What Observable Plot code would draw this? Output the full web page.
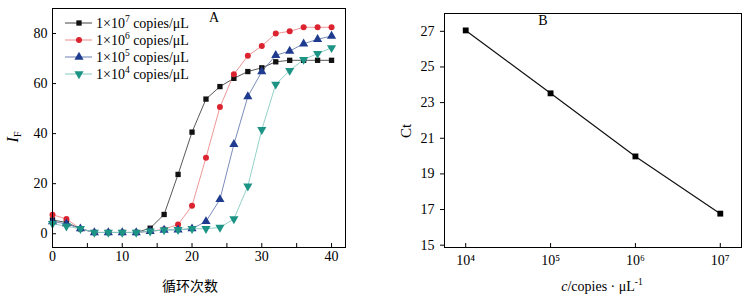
<!DOCTYPE html>
<html><head><meta charset="utf-8">
<script src="https://cdn.jsdelivr.net/npm/d3@7"></script>
<script src="https://cdn.jsdelivr.net/npm/@observablehq/plot@0.6"></script>
<style>
body{margin:0;background:#fff;}
#wrap{display:flex;width:750px;height:298px;overflow:hidden;}
#wrap svg{font-family:"Liberation Serif","Times New Roman",serif;display:block;}
</style></head><body><div id="wrap"></div>
<script>
// ---------- Panel A data ----------
const cycles = [0,2,4,6,8,10,12,14,16,18,20,22,24,26,28,30,32,34,36,38,40];
const seriesNames = ["1e7","1e6","1e5","1e4"];
const seriesExp = ["7","6","5","4"];
const vals1e7 = [5.5,4.5,2,0.5,0.5,0.5,0.5,2.2,7.7,23.7,40.6,53.8,58.8,62.1,64.8,66.3,68.7,69.3,69.3,69.3,69.3];
const vals1e6 = [7.6,5.9,2,0.5,0.5,0.5,0.5,1,1.8,3.7,11.2,30.4,50.6,63.7,71.1,75,80,80.9,82.5,82.5,82.5];
const vals1e5 = [4.8,4,2,0.5,0.5,0.5,0.5,1,1.5,1.6,2,4.9,13.7,35.7,54.8,64.8,71.3,73,75.9,77.7,79];
const vals1e4 = [4,3,2,0.5,0.5,0.5,0.5,1,1.5,1.6,2,2,2.5,5.9,19,41.6,59.7,65.2,69.6,72,74.3];
const xTicksA = [0,10,20,30,40];
const xMinorA = [0,5,10,15,20,25,30,35,40];
const yTicksA = [0,20,40,60,80];

// ---------- Panel B data ----------
const conc = [1e4,1e5,1e6,1e7];
const ct = [27.05,23.52,19.98,16.77];
const xTicksB = [1e4,1e5,1e6,1e7];
const yTicksB = [15,17,19,21,23,25,27];

const markerColors = ["#111111","#dc2430","#1f3b8f","#1c9485"];
const lineColors   = ["#444444","#ec8a8a","#6d7fb3","#86cbc2"];
const symbols = ["square","circle","triangle","triangle"];
const rotations = [0,0,0,180];
const radii = [3.0,3.0,3.4,3.4];

const allVals = [vals1e7, vals1e6, vals1e5, vals1e4];
const rowsA = [];
seriesNames.forEach((s,i)=>cycles.forEach((c,j)=>rowsA.push({series:s, idx:i, cycle:c, value:allVals[i][j]})));
const rowsB = conc.map((c,i)=>({conc:c, ct:ct[i]}));

const font = "Liberation Serif, Times New Roman, serif";
const W = 375, H = 298;

// ---------- Panel A ----------
const mA = {l:52, r:30, t:8, b:51};
const markSeries = [];
seriesNames.forEach((s,i)=>{
  const d = rowsA.filter(r=>r.idx===i);
  markSeries.push(Plot.line(d,{x:"cycle",y:"value",stroke:lineColors[i],strokeWidth:0.9}));
});
seriesNames.forEach((s,i)=>{
  const d = rowsA.filter(r=>r.idx===i);
  markSeries.push(Plot.dot(d,{x:"cycle",y:"value",symbol:symbols[i],rotate:rotations[i],r:radii[i],fill:markerColors[i],stroke:"none"}));
});
const plotA = Plot.plot({
  width: W, height: H,
  marginLeft: mA.l, marginRight: mA.r, marginTop: mA.t, marginBottom: mA.b,
  style: {fontFamily: font, fontSize: "14px", color: "#000", background: "#fff", overflow: "visible"},
  x: {domain: [0, 42]},
  y: {domain: [-5.5, 90]},
  marks: [
    Plot.axisX({ticks: xTicksA, tickSize: 0, tickPadding: 4, label: null, fontSize: 14}),
    Plot.axisY({ticks: yTicksA, tickSize: 0, tickPadding: 5, label: null, fontSize: 14}),
    Plot.tickX(xMinorA, {x: d=>d, insetTop: H - mA.t - mA.b - 4, stroke: "#000"}),
    Plot.tickY(yTicksA, {y: d=>d, insetRight: W - mA.l - mA.r - 4, stroke: "#000"}),
    ...markSeries,
    Plot.frame({stroke: "#000", strokeWidth: 1})
  ]
});

// ---------- Panel B ----------
const mB = {l:69, r:9, t:13, b:51};
const supMap = {"0":"⁰","1":"¹","2":"²","3":"³","4":"⁴","5":"⁵","6":"⁶","7":"⁷","8":"⁸","9":"⁹"};
const plotB = Plot.plot({
  width: W, height: H,
  marginLeft: mB.l, marginRight: mB.r, marginTop: mB.t, marginBottom: mB.b,
  style: {fontFamily: font, fontSize: "14px", color: "#000", background: "#fff", overflow: "visible"},
  x: {type: "log", domain: [10**3.75, 10**7.25]},
  y: {domain: [14.87, 28]},
  marks: [
    Plot.axisX({ticks: xTicksB, tickSize: 0, tickPadding: 8, label: null, fontSize: 14,
      tickFormat: d => "10" + String(Math.round(Math.log10(d))).split("").map(c=>supMap[c]).join("")}),
    Plot.axisY({ticks: yTicksB, tickSize: 4, tickPadding: 6, label: null, fontSize: 14}),
    Plot.tickX(xTicksB, {x: d=>d, insetTop: H - mB.t - mB.b - 4, stroke: "#000"}),
    Plot.line(rowsB, {x: "conc", y: "ct", stroke: "#111", strokeWidth: 1.2}),
    Plot.dot(rowsB, {x: "conc", y: "ct", symbol: "square", r: 3.3, fill: "#000", stroke: "none"}),
    Plot.frame({stroke: "#000", strokeWidth: 1})
  ]
});

document.getElementById("wrap").append(plotA, plotB);

// ---------- Annotations for panel A ----------
const sA = d3.select(plotA);
// legend
const legendY0 = 23, legendDy = 17;
seriesNames.forEach((s,i)=>{
  const y = legendY0 + i*legendDy;
  const g = sA.append("g");
  g.append("line").attr("x1",65).attr("x2",92).attr("y1",y).attr("y2",y)
    .attr("stroke",lineColors[i]).attr("stroke-width",1);
  const sym = d3.symbol().type(symbols[i]==="square"?d3.symbolSquare:symbols[i]==="circle"?d3.symbolCircle:d3.symbolTriangle)
    .size(Math.PI*radii[i]*radii[i]);
  g.append("path").attr("d",sym()).attr("transform",`translate(79,${y}) rotate(${rotations[i]})`).attr("fill",markerColors[i]);
  const t = g.append("text").attr("x",96).attr("y",y+4.5).attr("text-anchor","start").attr("font-size",14).attr("font-family",font).attr("fill","#000");
  t.append("tspan").text("1×10");
  t.append("tspan").attr("font-size",9.5).attr("dy",-6).text(seriesExp[i]);
  t.append("tspan").attr("dy",6).text(" copies/μL");
});
sA.append("text").attr("x",214).attr("y",22).attr("text-anchor","middle").attr("font-size",14).attr("font-family",font).text("A");
// y label
const yl = sA.append("text").attr("transform","translate(18,137) rotate(-90)").attr("text-anchor","middle").attr("font-size",16).attr("font-family",font);
yl.append("tspan").attr("font-style","italic").text("I");
yl.append("tspan").attr("font-size",10).attr("dy",3).text("F");
// x label
sA.append("text").attr("x",190).attr("y",291).attr("text-anchor","middle").attr("font-size",14)
  .attr("font-family","Noto Sans CJK SC, sans-serif").text("循环次数");

// ---------- Annotations for panel B ----------
const sB = d3.select(plotB);
sB.append("text").attr("x",543-375).attr("y",25).attr("text-anchor","middle").attr("font-size",14).attr("font-family",font).text("B");
sB.append("text").attr("transform",`translate(${411-375},131) rotate(-90)`).attr("text-anchor","middle").attr("font-size",15).attr("font-family",font).text("Ct");
const xl = sB.append("text").attr("x",602-375).attr("y",291).attr("text-anchor","middle").attr("font-size",14).attr("font-family",font);
xl.append("tspan").attr("font-style","italic").text("c");
xl.append("tspan").text("/copies · μL");
xl.append("tspan").attr("font-size",9.5).attr("dy",-6).text("-1");
</script>
</body></html>
